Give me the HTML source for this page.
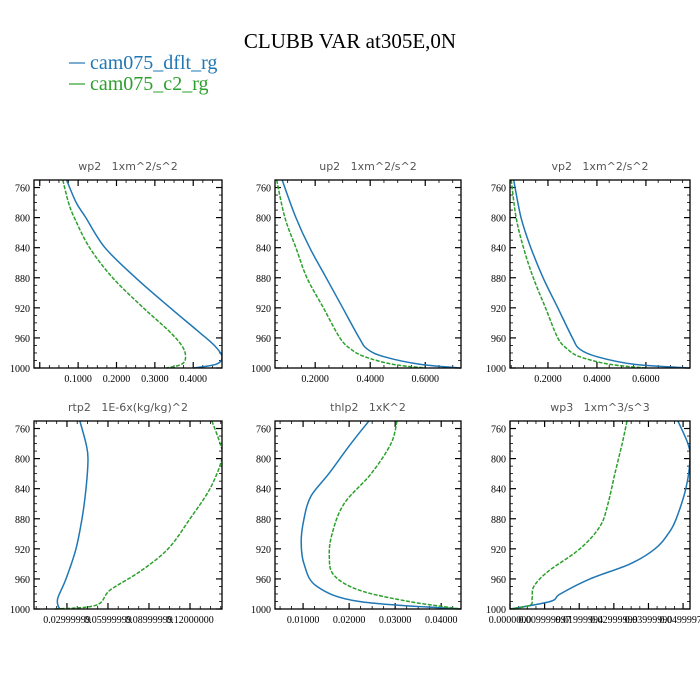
<!DOCTYPE html>
<html><head><meta charset="utf-8"><style>
body{margin:0;background:#fff}
svg{display:block}
</style></head><body>
<svg id="chart" width="700" height="700" viewBox="0 0 700 700" xmlns="http://www.w3.org/2000/svg">
<text x="350" y="48" text-anchor="middle" font-family="Liberation Serif, serif" font-size="21" fill="#000">CLUBB VAR at305E,0N</text>
<g>
<line x1="69" y1="63" x2="85" y2="63" stroke="#1f77b4" stroke-width="1.2"/>
<text x="90" y="69" font-family="Liberation Serif, serif" font-size="20" fill="#1f77b4">cam075_dflt_rg</text>
<line x1="69" y1="84" x2="85" y2="84" stroke="#2ca02c" stroke-width="1.2"/>
<text x="90" y="90" font-family="Liberation Serif, serif" font-size="20" fill="#2ca02c">cam075_c2_rg</text>
</g>
</svg>
<script>
// ---- data ----
const yTicks = [760, 800, 840, 880, 920, 960, 1000];
const panelTitles = ["wp2   1xm^2/s^2", "up2   1xm^2/s^2", "vp2   1xm^2/s^2", "rtp2   1E-6x(kg/kg)^2", "thlp2   1xK^2", "wp3   1xm^3/s^3"];
const panelNames = ["wp2", "up2", "vp2", "rtp2", "thlp2", "wp3"];

const wp2Lev = [750, 780, 800, 840, 880, 920, 950, 970, 985, 995, 1000];
const wp2Dflt = [0.07, 0.095, 0.12, 0.17, 0.25, 0.34, 0.41, 0.455, 0.475, 0.46, 0.40];
const wp2C2 = [0.06, 0.075, 0.09, 0.13, 0.19, 0.27, 0.335, 0.37, 0.38, 0.37, 0.33];
const wp2XTicks = [0.1, 0.2, 0.3, 0.4];
const wp2XLabels = ["0.1000", "0.2000", "0.3000", "0.4000"];

const up2Lev = [750, 800, 840, 880, 920, 960, 975, 985, 995, 1000];
const up2Dflt = [0.08, 0.13, 0.18, 0.24, 0.30, 0.36, 0.39, 0.45, 0.58, 0.73];
const up2C2 = [0.06, 0.09, 0.13, 0.17, 0.23, 0.29, 0.33, 0.38, 0.48, 0.60];
const up2XTicks = [0.2, 0.4, 0.6];
const up2XLabels = ["0.2000", "0.4000", "0.6000"];

const vp2Lev = [750, 800, 840, 880, 920, 960, 975, 985, 995, 1000];
const vp2Dflt = [0.06, 0.09, 0.13, 0.18, 0.24, 0.30, 0.33, 0.40, 0.55, 0.78];
const vp2C2 = [0.05, 0.07, 0.10, 0.14, 0.19, 0.24, 0.28, 0.33, 0.45, 0.60];
const vp2XTicks = [0.2, 0.4, 0.6];
const vp2XLabels = ["0.2000", "0.4000", "0.6000"];

const rtp2Lev = [750, 780, 800, 840, 880, 920, 960, 985, 995, 1000];
const rtp2Dflt = [0.0395, 0.0439, 0.0454, 0.0439, 0.041, 0.0366, 0.0293, 0.0234, 0.0234, 0.0249];
const rtp2LevC2 = [750, 780, 800, 840, 880, 920, 950, 975, 995, 1000];
const rtp2C2 = [0.136, 0.142, 0.1434, 0.1346, 0.12, 0.104, 0.0835, 0.0615, 0.0513, 0.0213];
const rtp2XTicks = [0.03, 0.06, 0.09, 0.12];
const rtp2XLabels = ["0.02999999", "0.05999999", "0.08999999", "0.12000000"];

const thlp2Lev = [750, 780, 820, 850, 880, 910, 940, 970, 990, 1000];
const thlp2Dflt = [0.0243, 0.0204, 0.0156, 0.0117, 0.0102, 0.0096, 0.0102, 0.0130, 0.0222, 0.0443];
const thlp2LevC2 = [750, 780, 820, 860, 900, 930, 955, 975, 990, 1000];
const thlp2C2 = [0.0304, 0.0291, 0.0248, 0.0189, 0.0163, 0.0157, 0.0167, 0.0222, 0.0330, 0.0443];
const thlp2XTicks = [0.01, 0.02, 0.03, 0.04];
const thlp2XLabels = ["0.01000", "0.02000", "0.03000", "0.04000"];

const wp3Lev = [750, 780, 800, 840, 880, 900, 920, 940, 960, 980, 990, 1000];
const wp3Dflt = [0.0485, 0.0514, 0.052, 0.0508, 0.0480, 0.0457, 0.0419, 0.0347, 0.0231, 0.0145, 0.0116, 0.0];
const wp3LevC2 = [750, 780, 820, 860, 890, 920, 950, 970, 985, 995, 1000];
const wp3C2 = [0.0338, 0.0324, 0.0303, 0.0283, 0.026, 0.0202, 0.0110, 0.0069, 0.0064, 0.0058, 0.0];
const wp3XTicks = [0.0, 0.01, 0.02, 0.03, 0.04, 0.05];
const wp3XLabels = ["0.0000000", "0.009999997", "0.01999994", "0.02999999", "0.03999990", "0.04999970"];

// ---- layout ----
const NS = "http://www.w3.org/2000/svg";
const svg = document.getElementById("chart");
const panels = [
  {x0:34,x1:222,y0:180,y1:368,xmin:-0.015,xmax:0.475,lev:wp2Lev,levC2:wp2Lev,a:wp2Dflt,b:wp2C2,xt:wp2XTicks,xl:wp2XLabels},
  {x0:275,x1:461,y0:180,y1:368,xmin:0.054,xmax:0.73,lev:up2Lev,levC2:up2Lev,a:up2Dflt,b:up2C2,xt:up2XTicks,xl:up2XLabels},
  {x0:510,x1:690,y0:180,y1:368,xmin:0.045,xmax:0.78,lev:vp2Lev,levC2:vp2Lev,a:vp2Dflt,b:vp2C2,xt:vp2XTicks,xl:vp2XLabels},
  {x0:34,x1:222,y0:421,y1:609,xmin:0.0059,xmax:0.1434,lev:rtp2Lev,levC2:rtp2LevC2,a:rtp2Dflt,b:rtp2C2,xt:rtp2XTicks,xl:rtp2XLabels},
  {x0:275,x1:461,y0:421,y1:609,xmin:0.0039,xmax:0.0443,lev:thlp2Lev,levC2:thlp2LevC2,a:thlp2Dflt,b:thlp2C2,xt:thlp2XTicks,xl:thlp2XLabels},
  {x0:510,x1:690,y0:421,y1:609,xmin:0.0,xmax:0.052,lev:wp3Lev,levC2:wp3LevC2,a:wp3Dflt,b:wp3C2,xt:wp3XTicks,xl:wp3XLabels}
];
const YMIN = 750, YMAX = 1000;

function mk(tag, attrs, parent){
  const e = document.createElementNS(NS, tag);
  for (const k in attrs) e.setAttribute(k, attrs[k]);
  (parent || svg).appendChild(e);
  return e;
}
function smooth(pts){
  let d = "M" + pts[0][0].toFixed(1) + "," + pts[0][1].toFixed(1);
  for (let i = 0; i < pts.length - 1; i++) {
    const p0 = pts[Math.max(0, i-1)], p1 = pts[i], p2 = pts[i+1], p3 = pts[Math.min(pts.length-1, i+2)];
    const c1x = p1[0] + (p2[0]-p0[0])/6, c1y = p1[1] + (p2[1]-p0[1])/6;
    const c2x = p2[0] - (p3[0]-p1[0])/6, c2y = p2[1] - (p3[1]-p1[1])/6;
    d += " C" + c1x.toFixed(1) + "," + c1y.toFixed(1) + " " + c2x.toFixed(1) + "," + c2y.toFixed(1) + " " + p2[0].toFixed(1) + "," + p2[1].toFixed(1);
  }
  return d;
}

panels.forEach((p, i) => {
  const xs = v => p.x0 + (v - p.xmin) / (p.xmax - p.xmin) * (p.x1 - p.x0);
  const ys = v => p.y0 + (v - YMIN) / (YMAX - YMIN) * (p.y1 - p.y0);
  const g = mk("g", {});
  
  

  const t = mk("text", {x:(p.x0+p.x1)/2, y:p.y0-10, "text-anchor":"middle", "font-family":"DejaVu Sans, sans-serif", "font-size":"11", fill:"#555", style:"white-space:pre"}, g);
  t.textContent = panelTitles[i];
  
  

  for (let v = 760; v <= 1000; v += 10) {
    const y = ys(v);
    const major = (v - 760) % 40 === 0;
    const L = major ? 6 : 3;
    mk("line", {x1:p.x0, y1:y, x2:p.x0+L, y2:y, stroke:"#000", "stroke-width":major?1.2:0.8}, g);
    mk("line", {x1:p.x1, y1:y, x2:p.x1-L, y2:y, stroke:"#000", "stroke-width":major?1.2:0.8}, g);
  }
  yTicks.forEach(v => {
    const lt = mk("text", {x:p.x0-4, y:ys(v)+4, "text-anchor":"end", "font-family":"Liberation Serif, serif", "font-size":"10", fill:"#000"}, g);
    lt.textContent = String(v);
    
    
  });
  const step = p.xt.length > 1 ? p.xt[1] - p.xt[0] : 0.1;
  const minor = step / 4;
  for (let v = Math.ceil(p.xmin / minor) * minor; v <= p.xmax + 1e-9; v += minor) {
    const x = xs(v);
    const maj = Math.abs(Math.round((v - p.xt[0]) / step) * step - (v - p.xt[0])) < minor * 0.1;
    const L = maj ? 6 : 3;
    mk("line", {x1:x, y1:p.y1, x2:x, y2:p.y1-L, stroke:"#000", "stroke-width":maj?1.2:0.8}, g);
    mk("line", {x1:x, y1:p.y0, x2:x, y2:p.y0+L, stroke:"#000", "stroke-width":maj?1.2:0.8}, g);
  }
  p.xt.forEach((v, k) => {
    const lt = mk("text", {x:xs(v), y:p.y1+14, "text-anchor":"middle", "font-family":"Liberation Serif, serif", "font-size":"10", fill:"#000"}, g);
    lt.textContent = p.xl[k];
    
    
  });

  const clipId = "clip" + i;
  const cp = mk("clipPath", {id:clipId}, g);
  mk("rect", {x:p.x0-8, y:p.y0, width:p.x1-p.x0+8, height:p.y1-p.y0+2}, cp);

  const pa = p.a.map((v, k) => [xs(v), ys(p.lev[k])]);
  const l1 = mk("path", {d:smooth(pa), fill:"none", stroke:"#1f77b4", "stroke-width":1.5, "stroke-linejoin":"round", "clip-path":"url(#"+clipId+")"}, g);
  
  
  const pb = p.b.map((v, k) => [xs(v), ys(p.levC2[k])]);
  const l2 = mk("path", {d:smooth(pb), fill:"none", stroke:"#2ca02c", "stroke-width":1.5, "stroke-dasharray":"4,1.5", "clip-path":"url(#"+clipId+")"}, g);
  
  

  const box = mk("rect", {x:p.x0, y:p.y0, width:p.x1-p.x0, height:p.y1-p.y0, fill:"none", stroke:"#000", "stroke-width":1.3}, g);
  
  
});
</script>
</body></html>
